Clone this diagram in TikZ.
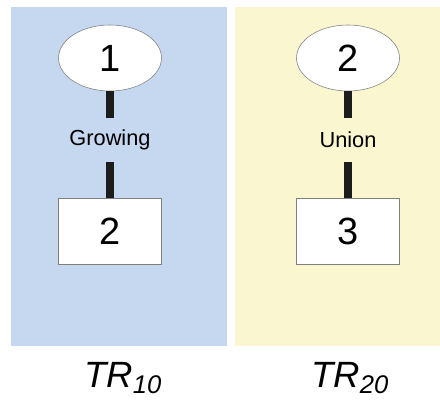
\documentclass[tikz,border=0pt]{standalone}
\usepackage{fontspec}
\setmainfont{Liberation Sans}
\usetikzlibrary{shapes.geometric}
\definecolor{panelblue}{RGB}{197,216,240}
\definecolor{panelyellow}{RGB}{250,246,207}
\definecolor{linkgray}{RGB}{28,28,28}

\begin{document}
\begin{tikzpicture}[every node/.style={text=black},
  top/.style={draw=gray, thin, fill=white, ellipse, inner sep=0pt, minimum width=2.575cm, minimum height=1.65cm, font=\fontsize{27}{30}\selectfont},
  leaf/.style={draw=gray, thin, fill=white, rectangle, inner sep=0pt, minimum width=2.575cm, minimum height=1.65cm, font=\fontsize{27}{30}\selectfont},
  op/.style={inner sep=0pt, minimum height=1.1cm, font=\fontsize{15.5}{18}\selectfont},
  link/.style={linkgray, line width=5pt},
  caption/.style={anchor=base, font=\fontsize{26}{30}\selectfont\itshape}]
\useasboundingbox (0,0) rectangle (11,10);
% panels
\fill[panelblue] (0.275,1.35) rectangle (5.675,9.825);
\fill[panelyellow] (5.875,1.35) rectangle (11,9.825);
% TR10
\node[top] (t1) at (2.75,8.55) {1};
\node[op] (g1) at (2.75,6.5) {Growing};
\node[leaf] (b1) at (2.75,4.225) {2};
\draw[link] (t1) -- (g1);
\draw[link] (g1) -- (b1);
\node[caption] (c1) at (3.075,0.3) {TR\textsubscript{10}};
% TR20
\node[top] (t2) at (8.7,8.55) {2};
\node[op] (u2) at (8.7,6.5) {Union};
\node[leaf] (b2) at (8.7,4.225) {3};
\draw[link] (t2) -- (u2);
\draw[link] (u2) -- (b2);
\node[caption] (c2) at (8.75,0.3) {TR\textsubscript{20}};
\end{tikzpicture}
\end{document}
